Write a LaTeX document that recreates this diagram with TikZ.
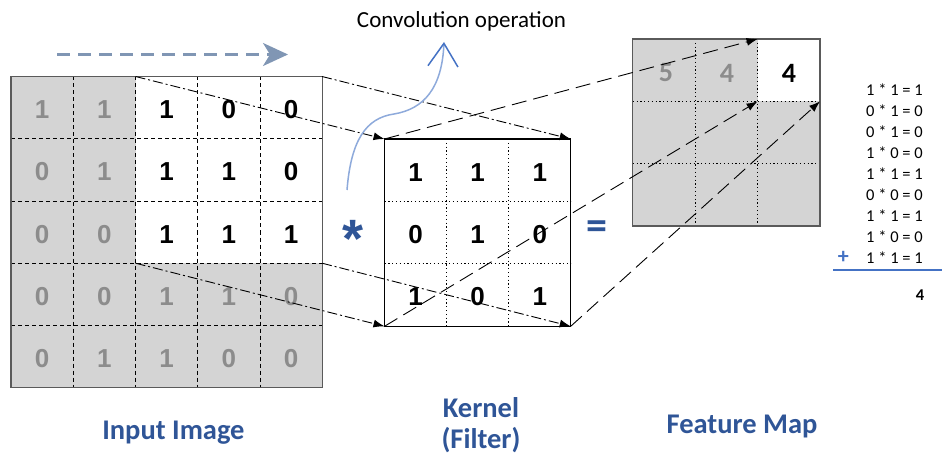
\documentclass[tikz,border=0pt]{standalone}
\usepackage{fontspec}
\setmainfont{Carlito}
\newfontfamily\numfont{Liberation Sans}
\usetikzlibrary{arrows.meta}
\definecolor{lblblue}{HTML}{2F5597}
\definecolor{cellgray}{HTML}{D4D4D4}
\definecolor{numgray}{HTML}{8C8C8C}
\definecolor{slidegray}{HTML}{8096B4}
\definecolor{curveblue}{HTML}{8EAADB}
\definecolor{tipblue}{HTML}{4472C4}
\definecolor{bordergray}{HTML}{5A5A5A}
\def\csz{62.25}
\begin{document}
\begin{tikzpicture}[x=1pt,y=-1pt,
  gridnum/.style={font=\numfont\bfseries\fontsize{26}{26}\selectfont, inner sep=0},
  fmnum/.style={font=\bfseries\fontsize{28}{28}\selectfont, inner sep=0},
  griddash/.style={black, line width=0.9pt, dash pattern=on 4pt off 3pt},
  griddot/.style={black, line width=1pt, dash pattern=on 1.2pt off 2.6pt},
  dashdot/.style={black, line width=0.9pt, dash pattern=on 10pt off 3pt on 2pt off 3pt, -{Latex[length=11pt,width=8pt]}},
  longdash/.style={black, line width=0.9pt, dash pattern=on 15pt off 7pt, -{Latex[length=11pt,width=8pt]}},
  label/.style={font=\bfseries\fontsize{28.5}{28.5}\selectfont, text=lblblue, inner sep=0},
  eqn/.style={font=\fontsize{16.5}{16.5}\selectfont, inner sep=0, anchor=base west},
  gridbox/.style={minimum size=#1, inner sep=0, outer sep=0}
]
\useasboundingbox (0,0) rectangle (942,457);

% ---------- sliding arrow ----------
\coordinate (slideA) at (57,54.5);
\coordinate (slideB) at (288,54.5);
\draw[slidegray, line width=2.6pt, dash pattern=on 13pt off 8pt,
  -{Stealth[length=25pt,width=23pt,inset=7pt]}] (slideA) -- (slideB);

% ---------- input image ----------
\fill[cellgray] (11,76.5) rectangle (322,388);
\fill[white] (135.5,76.5) rectangle (322,263.2);
\foreach \i in {1,...,4} {
  \draw[griddash] ({11+\i*\csz},76.5) -- ({11+\i*\csz},388);
  \draw[griddash] (11,{76.5+\i*\csz}) -- (322,{76.5+\i*\csz});
}
\node[gridbox=311.25pt, draw=bordergray, line width=1.4pt] (input) at (166.6,232.1) {};
\foreach \r/\row in {1/{1,1,1,0,0},2/{0,1,1,1,0},3/{0,0,1,1,1},4/{0,0,1,1,0},5/{0,1,1,0,0}} {
  \foreach \v [count=\cc] in \row {
    \pgfmathtruncatemacro\isblack{and(\r<4,\cc>2)}
    \ifnum\isblack=1 \def\numcol{black}\else\def\numcol{numgray}\fi
    \node[gridnum, text=\numcol] (in-\r-\cc) at ({11+(\cc-0.5)*\csz},{76.5+(\r-0.5)*\csz+2}) {\v};
  }
}
\coordinate (winTL) at (135.5,76.5);
\coordinate (winTR) at (322,76.5);
\coordinate (winBL) at (135.5,263.2);
\coordinate (winBR) at (322,263.2);

% ---------- kernel ----------
\foreach \i in {1,2} {
  \draw[griddot] ({384.5+\i*62.1},139) -- ({384.5+\i*62.1},326.3);
  \draw[griddot] (384.5,{139+\i*62.4}) -- (570.7,{139+\i*62.4});
}
\node[minimum width=186.2pt, minimum height=187.3pt, inner sep=0, outer sep=0, draw=black, line width=1.4pt] (kernel) at (477.6,232.65) {};
\foreach \r/\row in {1/{1,1,1},2/{0,1,0},3/{1,0,1}} {
  \foreach \v [count=\cc] in \row {
    \node[gridnum] (k-\r-\cc) at ({384.5+(\cc-0.5)*62.1},{139+(\r-0.5)*62.4+2}) {\v};
  }
}

% ---------- feature map ----------
\fill[cellgray] (632.7,39) rectangle (820,226);
\fill[white] (757.6,39) rectangle (820,101.4);
\foreach \i in {1,2} {
  \draw[griddot] ({632.7+\i*62.45},39) -- ({632.7+\i*62.45},226);
  \draw[griddot] (632.7,{39+\i*62.35}) -- (820,{39+\i*62.35});
}
\node[minimum width=187.3pt, minimum height=187pt, inner sep=0, outer sep=0, draw=bordergray, line width=1.4pt] (fmap) at (726.35,132.5) {};
\node[fmnum, text=numgray] (fm-1-1) at (666,73) {5};
\node[fmnum, text=numgray] (fm-1-2) at (727,73) {4};
\node[fmnum, text=black] (fm-1-3) at (789,73) {4};
\coordinate (fcTL) at (757.6,39);
\coordinate (fcBL) at (757.6,101.4);
\coordinate (fcBR) at (820,101.4);

% ---------- connectors ----------
\draw[dashdot] (winTL) -- (kernel.north west);
\draw[dashdot] (winTR) -- (kernel.north east);
\draw[dashdot] (winBL) -- (kernel.south west);
\draw[dashdot] (winBR) -- (kernel.south east);
\draw[longdash] (kernel.north west) -- (fcTL);
\draw[longdash] (kernel.south west) -- (fcBL);
\draw[longdash] (kernel.south east) -- (fcBR);

% ---------- convolution operation ----------
\node[font=\fontsize{23}{23}\selectfont, anchor=base, inner sep=0] (convtxt) at (461.5,28) {Convolution operation};
\coordinate (curveS) at (347,190);
\coordinate (curveE) at (444,42);
\draw[curveblue, line width=1.5pt, -{Straight Barb[color=tipblue, length=23pt, width=30pt, line width=1.5pt]}]
  (curveS) .. controls (351,140) and (366,118) .. (394,114)
  .. controls (424,109) and (442,88) .. (curveE);

% ---------- operators ----------
\node[font=\numfont\bfseries\fontsize{54}{54}\selectfont, text=lblblue, anchor=base, inner sep=0] (star) at (353,257) {*};
\node[font=\bfseries\fontsize{42}{42}\selectfont, text=lblblue, anchor=base, inner sep=0] (equal) at (596.5,240) {=};

% ---------- equations ----------
\foreach \t [count=\k from 0] in {1 * 1 = 1, 0 * 1 = 0, 0 * 1 = 0, 1 * 0 = 0, 1 * 1 = 1, 0 * 0 = 0, 1 * 1 = 1, 1 * 0 = 0, 1 * 1 = 1} {
  \node[eqn] (eq-\k) at (866,{95.8+\k*20.95}) {\t};
}
\node[font=\bfseries\fontsize{22}{22}\selectfont, text=tipblue, inner sep=0] (plus) at (843.3,257.5) {+};
\coordinate (sumL) at (833,270);
\coordinate (sumR) at (942,270);
\draw[tipblue, line width=2pt] (sumL) -- (sumR);
\node[font=\bfseries\fontsize{16.5}{16.5}\selectfont, inner sep=0] (result) at (920,295) {4};

% ---------- labels ----------
\node[label, anchor=base] (lblin) at (173.4,439) {Input Image};
\node[label, anchor=base] (lblk1) at (481,417) {Kernel};
\node[label, anchor=base] (lblk2) at (481,448) {(Filter)};
\node[label, anchor=base] (lblfm) at (742,433) {Feature Map};
\end{tikzpicture}
\end{document}
